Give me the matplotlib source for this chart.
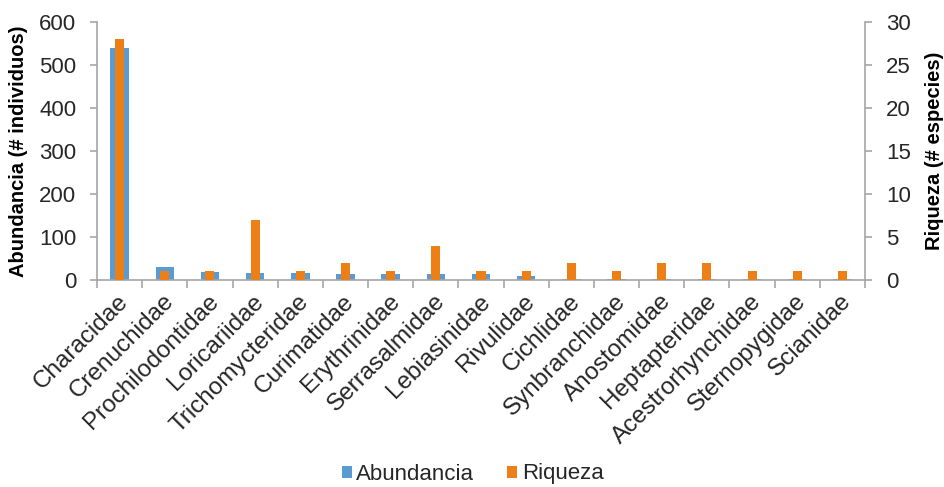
import matplotlib
matplotlib.use("Agg")
import matplotlib.pyplot as plt
import numpy as np
from matplotlib.patches import Patch

plt.rcParams['font.family'] = ['Liberation Sans', 'DejaVu Sans']

familias = ["Characidae", "Crenuchidae", "Prochilodontidae", "Loricariidae",
            "Trichomycteridae", "Curimatidae", "Erythrinidae", "Serrasalmidae",
            "Lebiasinidae", "Rivulidae", "Cichlidae", "Synbranchidae",
            "Anostomidae", "Heptapteridae", "Acestrorhynchidae",
            "Sternopygidae", "Scianidae"]
abundancia = [540, 31, 19, 17, 17, 13, 13, 13, 13, 10, 2, 2, 2, 2, 2, 2, 2]
riqueza = [28, 1, 1, 7, 1, 2, 1, 4, 1, 1, 2, 1, 2, 2, 1, 1, 1]

azul = "#5B9BD5"
naranja = "#EC8016"
gris = "#A6A6A6"
texto = "#262626"
fs = 16
fs_cat = 17.5
fs_lab = 14.5

fig = plt.figure(figsize=(9.45, 4.87), dpi=100)
ax = fig.add_axes([97 / 945, 1 - 280 / 487, (865 - 97) / 945, (280 - 22) / 487])
ax2 = ax.twinx()

x = np.arange(len(familias))
ax.bar(x, abundancia, width=0.41, color=azul, zorder=2)
ax2.bar(x, riqueza, width=0.2, color=naranja, zorder=3)

ax.set_xlim(-0.5, len(familias) - 0.5)
ax.set_ylim(0, 600)
ax2.set_ylim(0, 30)
ax.set_yticks(np.arange(0, 601, 100))
ax2.set_yticks(np.arange(0, 31, 5))

# category boundary ticks on x axis
ax.set_xticks(np.arange(-0.5, len(familias) + 0.5, 1))
ax.set_xticklabels([])
ax.tick_params(axis='x', length=6, color=gris, width=1.2, direction='out')
for xi, name in zip(x, familias):
    ax.text(xi - 0.05, -0.04, name, transform=ax.get_xaxis_transform(),
            rotation=45, ha='right', va='top', rotation_mode='anchor',
            fontsize=fs_cat, color=texto)

for a in (ax, ax2):
    a.spines['top'].set_visible(False)
    for s in ('left', 'right', 'bottom'):
        a.spines[s].set_color(gris)
        a.spines[s].set_linewidth(1.2)
ax.spines['right'].set_visible(False)
ax2.spines['left'].set_visible(False)
ax2.spines['bottom'].set_visible(False)

ax.tick_params(axis='y', length=5, color=gris, width=1.2, labelsize=fs,
               labelcolor=texto, pad=10)
ax2.tick_params(axis='y', length=5, color=gris, width=1.2, labelsize=fs,
                labelcolor=texto, pad=10)

ax.set_ylabel("Abundancia (# individuos)", fontsize=fs_lab, fontweight='bold',
              color='black', labelpad=8)
ax2.set_ylabel("Riqueza (# especies)", fontsize=fs_lab, fontweight='bold',
               color='black', rotation=90, labelpad=10)

handles = [Patch(facecolor=azul), Patch(facecolor=naranja)]
fig.legend(handles, ["Abundancia", "Riqueza"], loc='center',
           bbox_to_anchor=(0.5, 1 - 474 / 487), ncol=2, frameon=False,
           fontsize=fs, handlelength=0.45, handleheight=0.45,
           handletextpad=0.2, columnspacing=1.5, labelcolor=texto)

fig.savefig("out.png", dpi=100)
